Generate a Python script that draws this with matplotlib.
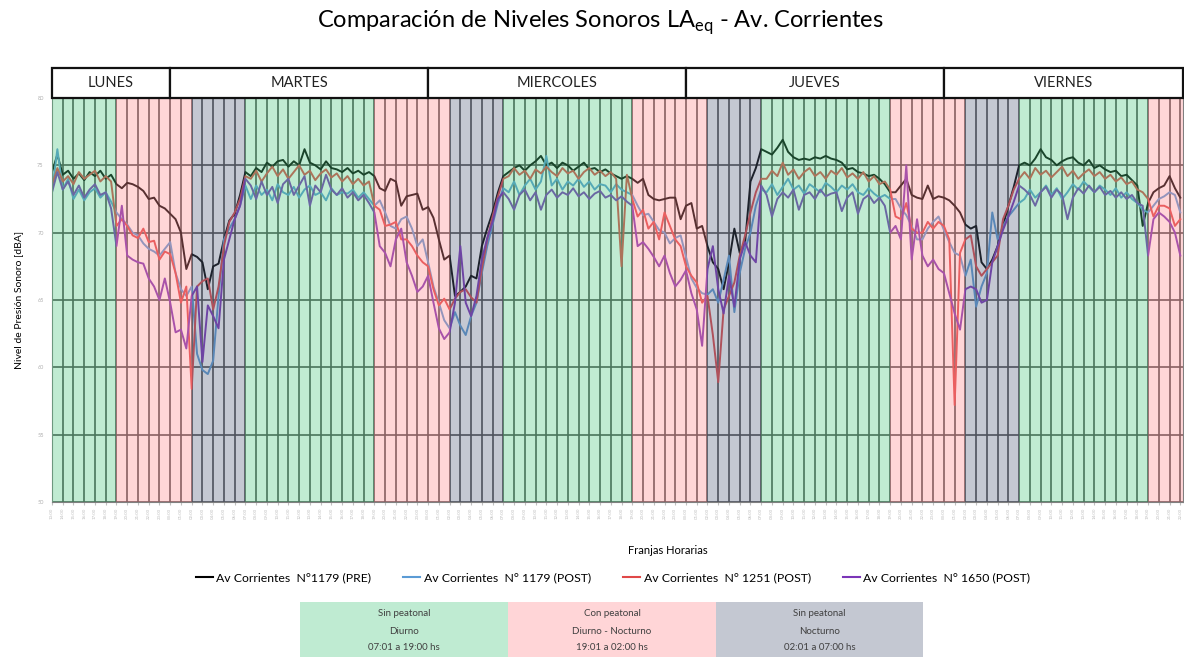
import numpy as np
import matplotlib
matplotlib.use("Agg")
import matplotlib.pyplot as plt
from matplotlib.patches import Rectangle
from matplotlib.lines import Line2D

plt.rcParams['font.family'] = ['Lato', 'DejaVu Sans']

# ---------------- data ----------------
start_clock = 13          # first sample: Monday 13:00
step_h = 0.5              # hours between samples

days = ["LUNES", "MARTES", "MIERCOLES", "JUEVES", "VIERNES"]
day_edges = [0, 11, 35, 59, 83, 105.25]

band_edges = [0, 6, 13, 18, 30, 37, 42, 54, 61, 66, 78, 85, 90, 102, 105.25]
band_kinds = ["sin_diurno", "con", "sin_noct", "sin_diurno", "con", "sin_noct",
              "sin_diurno", "con", "sin_noct", "sin_diurno", "con", "sin_noct",
              "sin_diurno", "con"]

labels = ["Av Corrientes  N°1179 (PRE)", "Av Corrientes  N° 1179 (POST)",
          "Av Corrientes  N° 1251 (POST)", "Av Corrientes  N° 1650 (POST)"]

pre_1179 = [
    74.5, 75.8, 74.3, 74.6, 74.0, 74.4, 73.9, 74.5, 74.2, 74.6, 74.0, 74.3, 73.6,
    73.3, 73.7, 73.6, 73.4, 73.1, 72.5, 72.6, 72.0, 71.8, 71.4, 71.0, 70.0, 67.3, 68.4, 68.2,
    67.8, 65.8, 67.5, 67.7, 69.5, 70.9, 71.4, 72.8, 74.5,
    74.2, 74.8, 74.5, 75.2, 74.9, 75.3, 75.4, 74.9, 75.3, 75.0, 76.2, 75.2,
    75.0, 74.7, 75.3, 74.8, 74.7, 74.5, 74.8, 74.4, 74.6, 74.3, 74.5, 74.2,
    73.3, 73.1, 74.0, 73.8, 72.0, 72.7, 72.8, 72.9, 71.7, 71.9, 71.1, 69.5, 68.0, 68.3,
    65.3, 65.6, 66.0, 66.8, 66.6, 69.0, 70.3, 71.5, 73.0, 74.2,
    74.5, 74.8, 75.0, 74.6, 75.0, 75.3, 75.7, 75.0, 75.2, 74.8, 75.2, 75.0,
    74.6, 74.9, 75.2, 74.7, 74.8, 74.5, 74.7, 74.4, 74.2, 74.0, 74.2, 74.0,
    73.7, 74.0, 72.8, 72.5, 72.4, 72.5, 72.6, 72.6, 71.0, 72.0, 72.2, 70.3, 70.5, 69.0,
    67.8, 67.3, 65.8, 67.8, 70.3, 68.5, 69.3, 73.8, 74.8, 76.2,
    76.0, 75.8, 76.3, 76.9, 76.0, 75.6, 75.4, 75.5, 75.4, 75.6, 75.5, 75.7,
    75.5, 75.4, 75.2, 74.7, 74.8, 74.5, 74.4, 74.2, 74.3, 74.0, 73.6, 73.0,
    73.0, 73.5, 74.0, 72.8, 72.6, 72.5, 73.5, 72.5, 72.7, 72.6, 72.4, 72.0, 71.5, 70.6,
    70.3, 70.5, 67.8, 67.3, 68.0, 69.0, 70.5, 72.0, 73.4, 75.0,
    75.2, 75.0, 75.5, 76.2, 75.6, 75.4, 75.0, 75.3, 75.5, 75.6, 75.2, 75.0,
    75.4, 74.8, 75.0, 74.7, 74.5, 74.6, 74.2, 74.3, 73.9, 73.5, 70.5, 72.2,
    73.0, 73.3, 73.5, 74.2, 73.3, 72.6]

post_1179 = [
    73.0, 76.2, 73.2, 74.0, 72.5, 73.2, 72.4, 73.0, 73.3, 72.6, 73.0, 72.3, 71.5,
    71.0, 70.6, 70.0, 69.8, 69.2, 68.8, 68.6, 68.3, 68.8, 69.3, 67.0, 65.8, 65.3, 66.0, 61.0,
    59.8, 59.5, 60.5, 65.3, 69.5, 70.3, 71.0, 72.0, 73.5,
    72.5, 73.5, 72.8, 73.2, 72.4, 73.6, 73.0, 72.8, 73.4, 72.6, 73.2, 73.5,
    72.8, 73.0, 72.4, 73.3, 72.8, 73.0, 72.9, 73.2, 72.6, 73.0, 72.5, 72.0,
    72.4, 71.5, 70.5, 70.3, 71.0, 71.2, 70.3, 69.0, 69.5, 67.8, 66.0, 64.8, 63.5, 62.9,
    64.1, 63.1, 62.4, 63.8, 64.8, 67.0, 69.0, 70.6, 72.2, 73.3,
    73.0, 73.8, 72.8, 73.5, 74.0, 73.2, 73.8, 75.7, 73.5, 74.0, 73.2, 73.8,
    73.5, 74.0, 73.4, 73.8, 73.2, 73.6, 73.5, 73.0, 73.6, 73.2, 73.0, 72.8,
    72.0, 71.3, 71.4, 70.8, 70.2, 70.0, 69.2, 69.6, 69.8, 68.2, 66.6, 65.9, 65.5, 65.4,
    65.8, 64.8, 66.5, 68.3, 64.1, 67.0, 68.8, 70.0, 72.0, 73.2,
    73.0, 73.6, 72.8, 73.4, 74.0, 73.2, 73.5, 72.9, 73.6, 73.3, 73.0, 73.7,
    73.4, 73.0, 73.5, 73.2, 73.6, 73.0, 72.8, 73.3, 72.9, 72.6, 72.8, 72.5,
    72.5, 71.8, 71.3, 70.5, 69.5, 69.5, 70.3, 70.8, 71.2, 70.2, 69.3, 68.5, 68.3, 66.8,
    68.0, 64.5, 66.0, 67.0, 71.5, 69.5, 70.5, 71.2, 71.7, 72.2,
    72.5, 73.2, 72.6, 73.0, 73.5, 72.8, 73.3, 72.5, 73.0, 73.6, 73.2, 73.8,
    73.4, 73.0, 73.5, 73.2, 72.8, 73.3, 72.6, 73.0, 72.5, 72.2, 71.7, 71.5,
    72.0, 72.5, 72.7, 73.0, 72.8, 71.5]

post_1251 = [
    73.5, 74.8, 73.8, 74.2, 73.6, 74.5, 74.0, 74.3, 74.6, 73.8, 74.2, 73.8, 70.5,
    71.0, 70.5, 69.8, 69.6, 70.3, 69.3, 69.4, 68.0, 68.6, 68.4, 67.0, 64.8, 66.0, 58.4, 66.0,
    66.4, 66.6, 64.3, 66.0, 69.0, 70.8, 71.5, 72.5, 74.2,
    74.0, 74.6, 73.8, 74.4, 74.9, 74.2, 74.7, 74.0, 74.5, 75.0, 74.3, 74.6,
    73.9, 74.4, 74.7, 74.1, 74.4, 73.8, 74.2, 73.6, 74.0, 73.5, 73.8, 72.0,
    71.7, 70.5, 70.6, 70.8, 69.5, 69.5, 69.0, 68.3, 67.8, 67.5, 65.8, 64.6, 65.1, 64.3,
    65.1, 65.6, 65.8, 65.2, 64.8, 67.3, 69.5, 71.2, 72.7, 74.0,
    74.2, 74.8, 74.3, 74.6, 74.0, 74.7, 74.4, 74.9, 74.5, 74.2, 74.8, 74.4,
    74.6, 74.0, 74.5, 74.8, 74.3, 74.6, 74.2, 74.5, 74.0, 67.5, 74.3, 72.5,
    71.2, 71.7, 70.3, 70.8, 69.5, 71.5, 70.5, 69.5, 69.0, 67.5, 66.8, 66.3, 64.8, 65.3,
    62.4, 58.9, 64.3, 65.3, 66.3, 68.3, 69.8, 71.5, 73.0, 74.0,
    74.0, 74.6, 74.2, 75.2, 74.3, 74.7, 74.0, 74.5, 74.8, 74.2, 74.5, 74.0,
    74.6, 74.3, 74.8, 74.1, 74.4, 74.0, 74.5, 73.8, 74.2, 73.6, 73.8, 73.2,
    71.2, 71.0, 72.2, 70.3, 70.0, 70.0, 70.8, 70.3, 70.8, 70.5, 69.5, 57.2, 68.5, 69.5,
    69.8, 67.5, 66.8, 67.3, 67.8, 68.3, 71.0, 72.0, 73.2, 74.0,
    74.5, 74.0, 74.8, 74.3, 74.6, 74.1, 74.5, 74.9, 74.2, 74.6, 74.0, 74.4,
    74.7, 74.2, 74.5, 74.0, 74.3, 73.8, 74.1, 73.6, 73.8, 73.2, 73.0, 72.5,
    71.2, 72.0, 72.0, 71.8, 70.5, 71.0]

post_1650 = [
    73.0, 74.5, 73.2, 73.8, 72.8, 73.5, 72.6, 73.2, 73.6, 72.8, 73.0, 71.8, 69.0,
    72.0, 68.3, 68.0, 67.8, 67.7, 66.6, 66.0, 65.0, 66.6, 64.8, 62.6, 62.8, 61.4, 65.3, 66.0,
    60.4, 64.6, 63.8, 62.9, 68.0, 69.5, 71.0, 72.0, 74.0,
    73.5, 72.5, 73.8, 72.8, 73.4, 72.2, 73.6, 74.0, 72.8, 73.5, 74.2, 72.0,
    73.5, 73.0, 74.3, 73.2, 72.8, 73.3, 72.6, 73.0, 72.4, 72.8, 72.2, 71.5,
    69.0, 68.5, 67.5, 69.5, 70.3, 67.8, 66.8, 65.6, 66.0, 66.8, 64.8, 62.9, 62.1, 62.6,
    64.8, 69.0, 64.8, 63.8, 65.3, 68.0, 69.6, 70.8, 72.5, 73.0,
    72.5, 71.7, 72.8, 73.2, 72.4, 73.0, 71.7, 72.8, 73.2, 72.6, 73.0, 72.8,
    73.3, 72.7, 73.0, 72.5, 72.9, 73.1, 72.6, 72.8, 72.4, 72.7, 72.3, 72.0,
    69.0, 69.3, 68.8, 68.2, 67.5, 68.3, 67.0, 66.0, 66.5, 67.2, 65.5, 64.3, 61.6, 67.3,
    69.0, 65.8, 64.0, 66.8, 64.5, 68.0, 69.3, 68.3, 67.8, 73.5,
    72.8, 71.2, 72.5, 73.0, 72.6, 73.2, 71.7, 72.8, 73.0, 72.5, 73.2, 72.7,
    72.9, 73.0, 71.6, 72.6, 73.0, 71.4, 72.5, 72.8, 72.2, 72.6, 72.0, 70.0,
    70.5, 69.5, 75.0, 68.0, 71.0, 68.3, 67.5, 68.0, 67.3, 67.0, 65.5, 64.0, 62.8, 65.8,
    66.0, 65.8, 64.8, 65.0, 67.8, 69.0, 70.2, 71.2, 72.3, 73.5,
    73.2, 72.8, 72.0, 73.0, 73.4, 72.6, 73.2, 72.8, 71.0, 72.6, 73.3, 72.9,
    73.5, 73.0, 73.4, 72.8, 73.1, 72.6, 73.0, 72.5, 72.8, 72.2, 72.0, 68.3,
    71.0, 71.5, 71.2, 70.8, 70.0, 68.3]

series = [pre_1179, post_1179, post_1251, post_1650]
colors = ["#000000", "#5B9BD5", "#E04848", "#7B35B8"]

band_info = {
    "sin_diurno": ("#4BC67E", "#BFEBD2", "Sin peatonal\nDiurno\n07:01 a 19:00 hs"),
    "con": ("#FF8A8F", "#FFD5D7", "Con peatonal\nDiurno - Nocturno\n19:01 a 02:00 hs"),
    "sin_noct": ("#56627F", "#C4C8D2", "Sin peatonal\nNocturno\n02:01 a 07:00 hs"),
}

# ---------------- figure ----------------
W, H = 1184, 657
fig = plt.figure(figsize=(W / 100, H / 100), dpi=100)

px_l, px_r, px_t, px_b = 52, 1183, 98, 502
ax = fig.add_axes([px_l / W, 1 - px_b / H, (px_r - px_l) / W, (px_b - px_t) / H])

n = len(pre_1179)
x = np.arange(n) * step_h
xmax = day_edges[-1]

for vals, c, lab in zip(series, colors, labels):
    ax.plot(x[:len(vals)], vals, color=c, lw=1.4, zorder=2, label=lab)

for i, kind in enumerate(band_kinds):
    ax.axvspan(band_edges[i], band_edges[i + 1], color=band_info[kind][0],
               alpha=0.35, lw=0, zorder=3)

hours = np.arange(0, int(xmax) + 1)
ax.set_xticks(hours)
ax.set_xticklabels([f"{(start_clock + int(h)) % 24:02d}:00" for h in hours],
                   rotation=90, fontsize=3.2, color="#b0b0b0")
ax.set_yticks([50, 55, 60, 65, 70, 75, 80])
ax.tick_params(axis='y', labelsize=4, colors="#b0b0b0", length=0, pad=6)
ax.tick_params(axis='x', length=2, colors="#c0c0c0", pad=2)
ax.set_axisbelow(True)
ax.grid(True, color="#4a4a4a", lw=1.2)
ax.set_xlim(0, xmax)
ax.set_ylim(50, 80)
for s in ax.spines.values():
    s.set_color("#808080")
    s.set_linewidth(0.8)

ax.set_ylabel("Nivel de Presión Sonoro [dBA]", fontsize=7.5, labelpad=10)

# header with day names
axh = fig.add_axes([px_l / W, 1 - px_t / H, (px_r - px_l) / W, 30 / H])
axh.set_xlim(0, xmax)
axh.set_ylim(0, 1)
axh.axis("off")
for d, a, b in zip(days, day_edges[:-1], day_edges[1:]):
    axh.add_patch(Rectangle((a, 0), b - a, 1, facecolor="white", edgecolor="#111111",
                            lw=1.6, clip_on=False))
    axh.text((a + b) / 2, 0.5, d, ha="center", va="center", fontsize=10.5,
             color="#222222")

fig.text(600 / W, 1 - 23 / H,
         "Comparación de Niveles Sonoros LA$_{\\mathregular{eq}}$ - Av. Corrientes",
         ha="center", va="center", fontsize=17)

fig.text(668 / W, 1 - 550 / H, "Franjas Horarias", ha="center", va="center",
         fontsize=8)

handles = [Line2D([], [], color=c, lw=1.5) for c in colors]
fig.legend(handles, labels, loc="center", bbox_to_anchor=(613 / W, 1 - 578 / H),
           ncol=4, frameon=False, fontsize=8.8, handlelength=1.4,
           handletextpad=0.3, columnspacing=2.6)

# bottom legend boxes
box_x = [300, 508, 716, 923]
for i, kind in enumerate(["sin_diurno", "con", "sin_noct"]):
    x0, x1 = box_x[i], box_x[i + 1]
    fig.patches.append(Rectangle((x0 / W, 0), (x1 - x0) / W, 55 / H,
                                 transform=fig.transFigure,
                                 facecolor=band_info[kind][1], edgecolor="none"))
    for j, line in enumerate(band_info[kind][2].split("\n")):
        fig.text((x0 + x1) / 2 / W, 1 - (614 + j * 17) / H, line, ha="center",
                 va="center", fontsize=7, color="#404040")

fig.savefig("out.png", dpi=100)
